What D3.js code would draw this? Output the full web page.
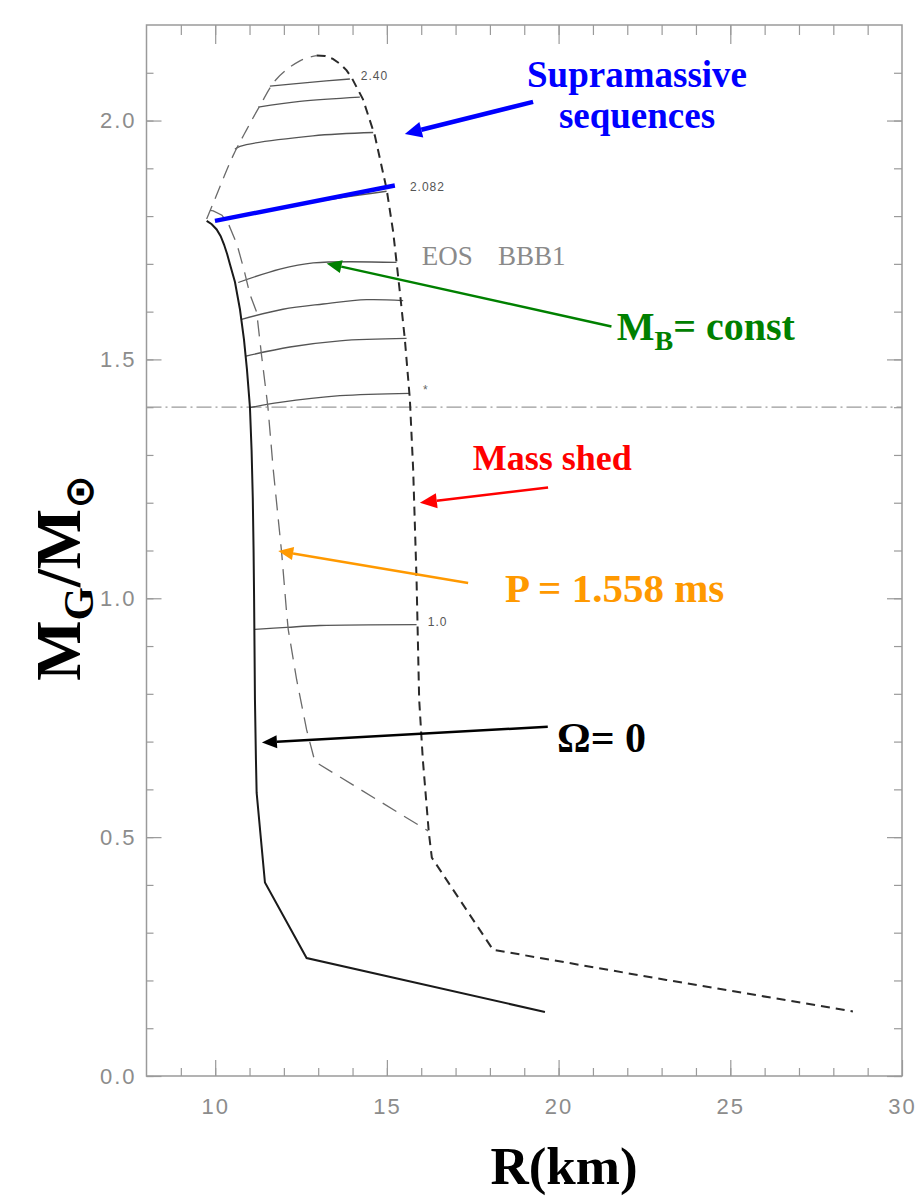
<!DOCTYPE html>
<html>
<head>
<meta charset="utf-8">
<script src="https://cdn.jsdelivr.net/npm/d3@7"></script>
<style>
  html, body { margin: 0; padding: 0; background: #fff; }
  svg { display: block; }
</style>
</head>
<body>
<svg id="chart" width="922" height="1197"></svg>
<script>
// Radius R (km) and gravitational mass M_G (solar masses), EOS BBB1

// Non-rotating stars (Omega = 0)
const staticSequence = [
  [9.752, 1.790], [9.900, 1.783], [10.043, 1.772], [10.160, 1.758], [10.255, 1.741],
  [10.350, 1.720], [10.430, 1.699], [10.576, 1.662], [10.721, 1.605], [10.838, 1.542],
  [10.925, 1.479], [11.012, 1.400], [11.060, 1.310], [11.095, 1.210], [11.118, 1.100],
  [11.133, 1.000], [11.145, 0.900], [11.158, 0.788], [11.187, 0.662], [11.207, 0.593],
  [11.449, 0.405], [12.662, 0.247], [19.603, 0.134]
];

// Axisymmetric instability limit (left edge of the supramassive region)
const instabilityLimit = [
  [9.752, 1.794], [9.994, 1.836], [10.518, 1.926], [10.925, 1.982], [11.303, 2.031],
  [11.789, 2.087], [12.467, 2.125], [12.953, 2.136]
];

// Mass-shedding (Keplerian) limit
const massShed = [
  [12.953, 2.136], [13.200, 2.135], [13.428, 2.129], [13.650, 2.118], [13.827, 2.105],
  [13.980, 2.089], [14.118, 2.070], [14.301, 2.045], [14.651, 1.968], [14.991, 1.857],
  [15.183, 1.767], [15.378, 1.641], [15.523, 1.542], [15.669, 1.417], [15.765, 1.270],
  [15.864, 1.039], [15.940, 0.788], [16.047, 0.662], [16.222, 0.509], [16.309, 0.457],
  [18.093, 0.264], [18.434, 0.260], [23.140, 0.201], [28.570, 0.135]
];

// Constant rotation period P = 1.558 ms
const periodSequence = [
  [9.850, 1.812], [9.944, 1.811], [10.197, 1.802], [10.401, 1.781], [10.634, 1.741],
  [10.838, 1.688], [11.012, 1.636], [11.207, 1.599], [11.353, 1.507], [11.536, 1.400],
  [11.690, 1.270], [11.935, 1.096], [12.080, 0.970], [12.127, 0.935], [12.371, 0.830],
  [12.662, 0.725], [12.904, 0.658], [16.201, 0.513]
];

// Sequences of constant baryon mass M_B
const baryonSequences = [
  [[11.594, 2.072], [12.758, 2.080], [13.923, 2.087]],
  [[11.254, 2.028], [12.467, 2.040], [14.213, 2.049]],
  [[10.576, 1.940], [10.721, 1.946], [12.846, 1.968], [14.601, 1.975]],
  [[9.994, 1.790], [12.467, 1.825], [14.991, 1.852]],
  [[10.672, 1.661], [11.885, 1.689], [12.855, 1.702], [15.282, 1.703]],
  [[10.771, 1.584], [11.973, 1.605], [13.146, 1.616], [14.409, 1.625], [15.474, 1.623]],
  [[10.896, 1.507], [12.176, 1.526], [13.632, 1.539], [15.573, 1.544]],
  [[11.012, 1.399], [11.885, 1.410], [13.632, 1.424], [15.669, 1.429]],
  [[11.158, 0.935], [12.080, 0.939], [13.050, 0.943], [15.864, 0.945]]
];
const baryonLabels = ["2.40", "2.082", "1.0"];
const baryonLabelPos = [[14.24, 2.093], [15.67, 1.861], [16.19, 0.951]];

// Canonical 1.4 solar mass reference line
const canonicalMass = 1.4;

// Axis ticks
const xMajorTicks = [10, 15, 20, 25, 30];
const xMinorTicks = d3.range(9, 30);
const yMajorTicks = [0.0, 0.5, 1.0, 1.5, 2.0];
const yMinorTicks = d3.range(0, 22).map(i => i / 10);

// Annotation arrows: [from, to] in data units
const supramassiveBar = [[9.994, 1.790], [15.232, 1.864]];
const arrowSupramassive = [[19.257, 2.039], [15.523, 1.972]];
const arrowBaryon = [[21.539, 1.569], [13.245, 1.701]];
const arrowShed = [[19.694, 1.232], [15.960, 1.200]];
const arrowPeriod = [[17.366, 1.032], [11.836, 1.099]];
const arrowStatic = [[19.685, 0.731], [11.361, 0.698]];

const svg = d3.select("#chart");
const x = d3.scaleLinear().domain([8, 30]).range([146.5, 902]);
const y = d3.scaleLinear().domain([0, 2.2]).range([1076, 25]);

const frameColor = "#9a9a9a";
const tickText = "#8c8c8c";

// Axes with ticks pointing inward
function styleAxis(g) {
  g.select(".domain").remove();
  g.selectAll(".tick line").attr("stroke", frameColor).attr("stroke-width", 1.2);
  g.selectAll(".tick text")
    .attr("fill", tickText)
    .style("font-family", "'Liberation Sans', Arial, sans-serif")
    .style("font-size", "22px")
    .style("letter-spacing", "2px");
}

svg.append("g").attr("transform", `translate(0,${y(0)})`)
  .call(d3.axisBottom(x).tickValues(xMinorTicks).tickSize(-8).tickFormat(""))
  .call(styleAxis);
svg.append("g").attr("transform", `translate(0,${y(0)})`)
  .call(d3.axisBottom(x).tickValues(xMajorTicks).tickSize(-16).tickPadding(22).tickFormat(d3.format("d")))
  .call(styleAxis);
svg.append("g").attr("transform", `translate(0,${y(2.2)})`)
  .call(d3.axisTop(x).tickValues(xMinorTicks).tickSize(-10).tickFormat(""))
  .call(styleAxis);
svg.append("g").attr("transform", `translate(0,${y(2.2)})`)
  .call(d3.axisTop(x).tickValues(xMajorTicks.filter(v => v < 30)).tickSize(-19).tickFormat(""))
  .call(styleAxis);

svg.append("g").attr("transform", `translate(${x(8)},0)`)
  .call(d3.axisLeft(y).tickValues(yMinorTicks).tickSize(-7).tickFormat(""))
  .call(styleAxis);
svg.append("g").attr("transform", `translate(${x(8)},0)`)
  .call(d3.axisLeft(y).tickValues(yMajorTicks).tickSize(-15).tickPadding(10).tickFormat(d3.format(".1f")))
  .call(styleAxis);
svg.append("g").attr("transform", `translate(${x(30)},0)`)
  .call(d3.axisRight(y).tickValues(yMinorTicks).tickSize(-8).tickFormat(""))
  .call(styleAxis);
svg.append("g").attr("transform", `translate(${x(30)},0)`)
  .call(d3.axisRight(y).tickValues(yMajorTicks).tickSize(-15).tickFormat(""))
  .call(styleAxis);

// Plot frame
svg.append("rect")
  .attr("x", x(8)).attr("y", y(2.2))
  .attr("width", x(30) - x(8)).attr("height", y(0) - y(2.2))
  .attr("fill", "none").attr("stroke", frameColor).attr("stroke-width", 1.5);

// 1.4 M_sun dash-dot line
svg.append("line")
  .attr("x1", x(8)).attr("x2", x(30))
  .attr("y1", y(canonicalMass)).attr("y2", y(canonicalMass))
  .attr("stroke", "#9a9a9a").attr("stroke-width", 1.2)
  .attr("stroke-dasharray", "15,4,2,4");

const smooth = d3.line().x(d => x(d[0])).y(d => y(d[1])).curve(d3.curveCatmullRom.alpha(0.5));
const straight = d3.line().x(d => x(d[0])).y(d => y(d[1]));

// Constant baryon mass sequences
svg.append("g").selectAll("path")
  .data(baryonSequences).join("path")
  .attr("d", smooth)
  .attr("fill", "none").attr("stroke", "#555").attr("stroke-width", 1.3);

svg.append("g").selectAll("text")
  .data(baryonLabels).join("text")
  .attr("x", (d, i) => x(baryonLabelPos[i][0]))
  .attr("y", (d, i) => y(baryonLabelPos[i][1]))
  .attr("dy", "0.35em")
  .attr("fill", "#555")
  .style("font-family", "'Liberation Sans', Arial, sans-serif")
  .style("font-size", "12px")
  .style("letter-spacing", "1px")
  .text(d => d);

svg.append("text")
  .attr("x", x(16.05)).attr("y", y(1.437)).attr("dy", "0.35em")
  .attr("fill", "#666").style("font-size", "12px")
  .style("font-family", "'Liberation Sans', Arial, sans-serif")
  .text("*");

// Instability limit and constant-period curve
svg.append("path").datum(instabilityLimit)
  .attr("d", smooth).attr("fill", "none")
  .attr("stroke", "#6a6a6a").attr("stroke-width", 1.3).attr("stroke-dasharray", "14,8");
svg.append("path").datum(periodSequence)
  .attr("d", straight).attr("fill", "none")
  .attr("stroke", "#6a6a6a").attr("stroke-width", 1.3).attr("stroke-dasharray", "16,9");

// Mass-shedding limit
svg.append("path").datum(massShed)
  .attr("d", straight).attr("fill", "none")
  .attr("stroke", "#2a2a2a").attr("stroke-width", 2).attr("stroke-dasharray", "9,6");

// Non-rotating sequence
svg.append("path").datum(staticSequence)
  .attr("d", straight).attr("fill", "none")
  .attr("stroke", "#1a1a1a").attr("stroke-width", 2);

// EOS name
const eosFont = "'Liberation Serif', 'Times New Roman', serif";
svg.append("text").attr("x", 421.7).attr("y", 265)
  .attr("fill", "#8a8a8a").style("font-family", eosFont).style("font-size", "27px").text("EOS");
svg.append("text").attr("x", 498).attr("y", 265)
  .attr("fill", "#8a8a8a").style("font-family", eosFont).style("font-size", "27px").text("BBB1");

// Annotation arrows
function arrow(pts, color, width, headLen, headHalf) {
  const [p0, p1] = pts;
  const x0 = x(p0[0]), y0 = y(p0[1]), x1 = x(p1[0]), y1 = y(p1[1]);
  const ang = Math.atan2(y1 - y0, x1 - x0);
  const bx = x1 - headLen * Math.cos(ang), by = y1 - headLen * Math.sin(ang);
  svg.append("line")
    .attr("x1", x0).attr("y1", y0).attr("x2", bx).attr("y2", by)
    .attr("stroke", color).attr("stroke-width", width);
  const nx = -Math.sin(ang), ny = Math.cos(ang);
  svg.append("polygon")
    .attr("points", [[x1, y1], [bx + nx * headHalf, by + ny * headHalf], [bx - nx * headHalf, by - ny * headHalf]].map(p => p.join(",")).join(" "))
    .attr("fill", color);
}

svg.append("line")
  .attr("x1", x(supramassiveBar[0][0])).attr("y1", y(supramassiveBar[0][1]))
  .attr("x2", x(supramassiveBar[1][0])).attr("y2", y(supramassiveBar[1][1]))
  .attr("stroke", "#0000ff").attr("stroke-width", 4.5);

arrow(arrowSupramassive, "#0000ff", 4.5, 17, 8);
arrow(arrowBaryon, "#008000", 2.5, 15, 6.5);
arrow(arrowShed, "#ff0000", 2.5, 17, 7.5);
arrow(arrowPeriod, "#ff9900", 2.5, 15, 6.5);
arrow(arrowStatic, "#000000", 2.5, 15, 6.5);

// Annotation labels
const serif = "'Liberation Serif', 'Times New Roman', serif";
function label(xp, yp, color, size, anchor) {
  return svg.append("text")
    .attr("x", xp).attr("y", yp)
    .attr("fill", color)
    .attr("text-anchor", anchor || "start")
    .style("font-family", serif)
    .style("font-weight", "bold")
    .style("font-size", size + "px");
}

label(637, 87, "#0000ff", 37, "middle").text("Supramassive");
label(637, 128, "#0000ff", 37, "middle").text("sequences");

const mb = label(616.7, 340, "#008000", 40);
mb.append("tspan").text("M");
mb.append("tspan").attr("dy", 10).style("font-size", "28px").text("B");
mb.append("tspan").attr("dy", -10).text("= const");

label(472.7, 470, "#ff0000", 36).text("Mass shed");
label(505, 602, "#ff9900", 41).text("P = 1.558 ms");
label(557, 752, "#000000", 42).text("Ω= 0");

// Axis titles
label(564, 1184, "#000000", 53, "middle").text("R(km)");

const yl = svg.append("text")
  .attr("transform", "translate(80,578) rotate(-90)")
  .attr("text-anchor", "middle")
  .attr("fill", "#000")
  .style("font-family", serif)
  .style("font-weight", "bold")
  .style("font-size", "64px");
yl.append("tspan").text("M");
yl.append("tspan").attr("dy", 13).style("font-size", "43px").text("G");
yl.append("tspan").attr("dy", -13).text("/M");
yl.append("tspan").attr("dy", 13).style("font-size", "40px")
  .style("font-family", "'DejaVu Sans', sans-serif").text("⊙");
</script>
</body>
</html>
